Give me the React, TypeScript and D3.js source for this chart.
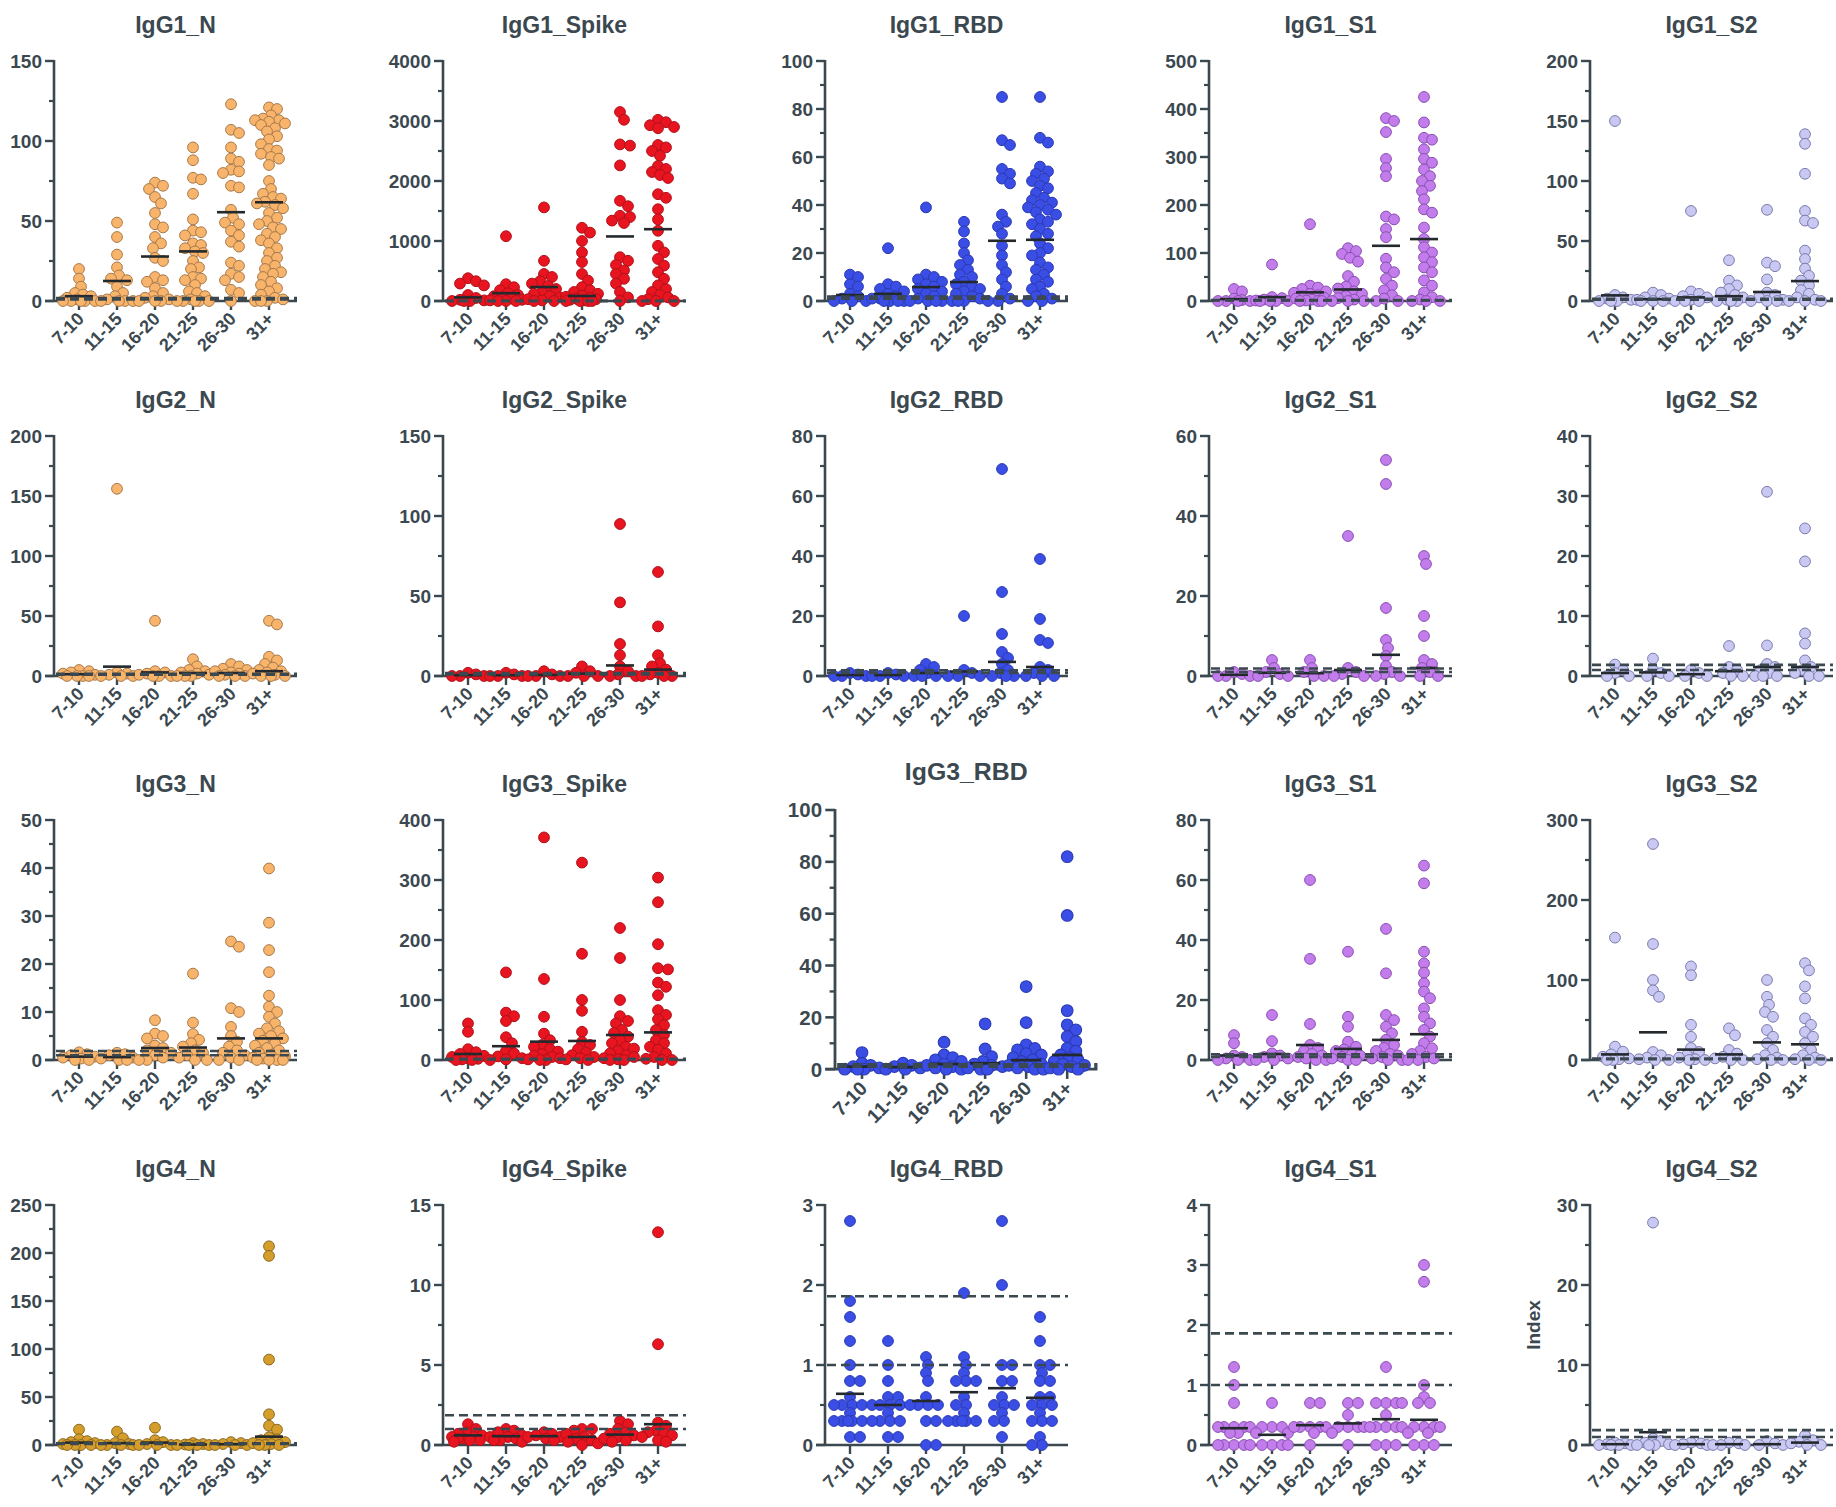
import * as d3 from "d3";

// age groups on every x axis
const ageGroups = ["7-10", "11-15", "16-20", "21-25", "26-30", "31+"];
// positivity cut-offs drawn as dashed lines
const cutoffs = [1.0, 1.86];

// ---- IgG1 ----
const igg1N = [
  [20, 14, 9, 5, 4, 3, 2, 1, 0, 0, 0, 0, 0],
  [49, 40, 29, 21, 16, 14, 13, 9, 5, 3, 1, 0, 0, 0, 0],
  [74, 72, 70, 65, 61, 55, 48, 46, 40, 36, 33, 27, 25, 15, 13, 12, 8, 5, 3, 2, 1, 0, 0, 0],
  [96, 88, 77, 76, 67, 51, 44, 43, 41, 36, 35, 33, 31, 30, 25, 21, 20, 15, 14, 13, 10, 6, 5, 3, 1, 0, 0, 0, 0, 0],
  [123, 107, 105, 96, 89, 87, 82, 81, 80, 72, 71, 57, 52, 49, 48, 44, 41, 37, 34, 24, 22, 17, 15, 13, 7, 5, 0],
  [121, 120, 116, 114, 113, 113, 112, 111, 110, 108, 106, 103, 101, 98, 95, 94, 92, 90, 89, 85, 75, 70, 67, 65, 64, 62, 61, 60, 58, 55, 52, 50, 48, 46, 45, 42, 40, 38, 36, 33, 30, 27, 25, 22, 20, 18, 17, 15, 12, 10, 8, 6, 4, 2, 1, 0, 0, 0],
];
const igg1NMean = [3, 12.5, 27.8, 31, 55.5, 61.7];

const igg1Spike = [
  [380, 330, 290, 260, 100, 50, 20, 10, 0, 0, 0],
  [1080, 280, 230, 180, 130, 100, 80, 60, 40, 20, 10, 0, 0, 0],
  [1560, 670, 450, 400, 330, 290, 250, 200, 150, 120, 80, 60, 30, 10, 0, 0],
  [1220, 1140, 1000, 810, 650, 450, 340, 230, 180, 150, 120, 90, 70, 50, 40, 30, 20, 10, 0, 0, 0, 0],
  [3150, 3020, 2610, 2590, 2260, 1670, 1580, 1420, 1400, 1340, 1300, 730, 670, 600, 510, 450, 370, 290, 150, 60, 0],
  [3020, 2980, 2930, 2900, 2880, 2600, 2560, 2500, 2420, 2250, 2200, 2150, 2100, 2050, 1780, 1720, 1530, 1360, 1170, 920, 810, 700, 590, 480, 370, 260, 200, 150, 100, 60, 30, 0, 0, 0],
];
const igg1SpikeMean = [60, 130, 232, 83, 1076, 1197];

const igg1RBD = [
  [11, 10, 7, 6, 3, 2, 1, 0, 0, 0],
  [22, 7, 6, 5, 4, 3, 2, 1, 1, 0, 0, 0, 0],
  [39, 11, 10, 9, 8, 7, 6, 5, 4, 3, 2, 1, 0, 0, 0, 0],
  [33, 29, 24, 20, 17, 15, 13, 11, 10, 8, 7, 6, 5, 4, 3, 2, 1, 0, 0, 0],
  [85, 67, 65, 55, 53, 51, 49, 36, 33, 31, 28, 23, 19, 15, 12, 9, 6, 3, 1, 0, 0],
  [85, 68, 66, 56, 54, 53, 51, 50, 48, 47, 45, 43, 42, 41, 40, 39, 38, 37, 36, 34, 33, 32, 30, 28, 27, 24, 22, 20, 19, 16, 14, 13, 11, 9, 8, 6, 5, 3, 2, 1, 0, 0],
];
const igg1RBDMean = [2.5, 3, 5.8, 7.9, 25.1, 25.5];

const igg1S1 = [
  [25, 20, 5, 2, 0, 0, 0, 0],
  [76, 8, 6, 3, 1, 0, 0, 0, 0],
  [160, 32, 28, 25, 20, 17, 15, 12, 10, 7, 5, 3, 1, 0, 0, 0],
  [110, 104, 98, 90, 82, 52, 40, 30, 26, 20, 15, 10, 6, 3, 0, 0, 0],
  [381, 375, 352, 296, 277, 260, 176, 170, 150, 133, 88, 70, 60, 46, 32, 22, 12, 5, 0, 0],
  [425, 372, 340, 336, 316, 296, 288, 274, 260, 250, 240, 229, 212, 191, 184, 153, 129, 112, 101, 91, 81, 70, 60, 43, 32, 18, 8, 3, 0, 0, 0],
];
const igg1S1Mean = [4, 8, 18, 24, 115, 129];

const igg1S2 = [
  [150, 5, 3, 2, 1, 0, 0, 0],
  [7, 5, 3, 2, 1, 0, 0, 0],
  [75, 8, 6, 4, 3, 1, 0, 0, 0],
  [34, 17, 13, 10, 7, 5, 3, 1, 0, 0, 0],
  [76, 32, 29, 18, 7, 5, 3, 1, 0, 0, 0],
  [139, 131, 106, 75, 67, 65, 42, 35, 27, 21, 17, 13, 9, 6, 3, 1, 0, 0, 0],
];
const igg1S2Mean = [4.7, 1.5, 3, 4, 7.5, 16.6];

// ---- IgG2 ----
const igg2N = [
  [5, 4, 3, 2, 1, 0, 0, 0, 0],
  [156, 3, 2, 1, 0, 0, 0],
  [46, 4, 3, 2, 1, 0, 0, 0],
  [14, 8, 5, 4, 3, 2, 1, 0, 0, 0],
  [10, 8, 6, 5, 4, 3, 2, 1, 0, 0, 0],
  [46, 43, 16, 13, 10, 7, 5, 4, 3, 2, 1, 0, 0, 0],
];
const igg2NMean = [1.5, 7.8, 3, 2.5, 2.5, 4];

const igg2Spike = [
  [2, 1, 0, 0, 0],
  [2, 1, 0, 0, 0],
  [3, 1, 0, 0, 0],
  [6, 3, 2, 0, 0, 0],
  [95, 46, 20, 13, 6, 3, 1, 0, 0],
  [65, 31, 13, 8, 6, 4, 2, 1, 0, 0, 0],
];
const igg2SpikeMean = [0.5, 0.5, 0.7, 1.5, 6.6, 4];

const igg2RBD = [
  [1, 0.5, 0, 0, 0],
  [1, 0.5, 0, 0, 0],
  [4, 3, 2, 1, 0, 0, 0],
  [20, 2, 1, 0, 0, 0],
  [69, 28, 14, 8, 6, 4, 2, 1, 0, 0, 0],
  [39, 19, 12, 11, 3, 2, 1, 0, 0, 0],
];
const igg2RBDMean = [0.3, 0.3, 1, 1.5, 4.7, 3];

const igg2S1 = [
  [1, 0.5, 0, 0, 0],
  [4, 2, 1, 0.5, 0, 0],
  [4, 2, 1, 0, 0],
  [35, 2, 1, 0.5, 0, 0],
  [54, 48, 17, 9, 7, 5, 2.5, 1, 0.5, 0, 0],
  [30, 28, 15, 10, 4, 3, 2, 1, 0, 0],
];
const igg2S1Mean = [0.3, 0.8, 0.7, 1.5, 5.3, 2];

const igg2S2 = [
  [1.9, 1, 0.5, 0, 0],
  [2.9, 1, 0.5, 0, 0],
  [1, 0.5, 0, 0],
  [5, 1.5, 1, 0.5, 0, 0],
  [30.7, 5.1, 2, 1.5, 1, 0.5, 0, 0, 0],
  [24.6, 19.1, 7.1, 5.4, 2.6, 1.5, 1, 0.5, 0, 0],
];
const igg2S2Mean = [0.5, 0.6, 0.3, 0.8, 1.5, 1.5];

// ---- IgG3 ----
const igg3N = [
  [1.6, 1.2, 1, 0.7, 0.5, 0.3, 0, 0],
  [1.5, 1.2, 1, 0.5, 0.3, 0, 0],
  [8.3, 5.5, 5, 4.5, 3, 2.5, 2, 1.5, 1, 0.5, 0, 0],
  [18, 7.8, 5.4, 4.2, 3.5, 2.8, 2, 1.5, 1, 0.5, 0, 0],
  [24.7, 23.6, 10.8, 10, 6.9, 5, 3.8, 2.8, 2, 1.5, 1, 0.5, 0, 0],
  [39.9, 28.6, 22.9, 18.3, 13.4, 11.1, 10, 9, 7.6, 6.6, 6, 5.5, 5, 4.5, 4, 3.5, 3, 2.5, 2, 1.5, 1, 0.8, 0.5, 0.3, 0, 0, 0, 0],
];
const igg3NMean = [0.7, 0.6, 2.5, 2.6, 4.5, 4.5];

const igg3Spike = [
  [61, 47, 18, 13, 10, 7, 5, 3, 2, 1, 0, 0],
  [146, 79, 73, 65, 38, 28, 15, 11, 6, 3, 1, 0],
  [371, 135, 72, 44, 33, 25, 22, 18, 14, 10, 7, 5, 3, 1, 0, 0],
  [329, 177, 100, 82, 47, 30, 25, 18, 12, 8, 5, 3, 1, 0],
  [220, 170, 100, 73, 65, 61, 50, 45, 39, 33, 28, 22, 19, 15, 11, 8, 5, 3, 1, 0, 0],
  [304, 263, 193, 153, 151, 129, 122, 108, 83, 75, 68, 58, 50, 42, 33, 28, 22, 17, 11, 5, 2, 0, 0],
];
const igg3SpikeMean = [10, 23, 30.6, 31.7, 41.7, 46];

const igg3RBD = [
  [6.4, 2.3, 1.5, 1, 0.5, 0, 0, 0],
  [2.3, 1.5, 1, 0.5, 0, 0],
  [10.4, 5.5, 4.5, 3.6, 3, 2, 1.5, 1, 0.5, 0, 0],
  [17.5, 7.8, 4.9, 3, 2, 1.5, 1, 0.5, 0, 0],
  [31.9, 18, 9.4, 8, 7.5, 6, 5.5, 4.5, 3.6, 3, 2, 1.5, 1, 0.5, 0, 0],
  [82, 59.3, 22.6, 17.1, 15.2, 12.6, 10.7, 8.1, 7, 5.5, 4.5, 3.6, 3, 2, 1.5, 1, 0.5, 0, 0],
];
const igg3RBDMean = [1, 0.8, 2, 2.3, 3.5, 5.5];

const igg3S1 = [
  [8.3, 5.6, 1.5, 1, 0.5, 0, 0, 0],
  [15, 6.3, 2.2, 1.5, 1, 0.5, 0, 0],
  [60, 33.7, 12, 5, 4, 3, 2, 1.5, 1, 0.5, 0, 0],
  [36.1, 14.4, 11.1, 6.1, 4.4, 3.5, 3, 2, 1.5, 1, 0.5, 0, 0],
  [43.7, 28.9, 15, 13.3, 11.1, 8.9, 6.7, 5, 4, 3, 2, 1.5, 1, 0.5, 0, 0],
  [64.8, 58.9, 36.1, 32.2, 29.1, 25.6, 22.8, 20.6, 17.2, 14.4, 12.2, 10, 7.8, 5.6, 3.9, 3, 2, 1, 0.5, 0, 0],
];
const igg3S1Mean = [1.5, 2, 5, 3.7, 6.7, 8.6];

const igg3S2 = [
  [153, 16.7, 10.4, 7, 4, 2, 1, 0, 0],
  [270, 145, 100, 87, 79, 10, 6, 3, 1, 0, 0],
  [117, 106, 44, 29, 15, 10, 6, 3, 1, 0, 0],
  [39.6, 31, 12.5, 8, 4, 2, 0, 0],
  [100, 79, 69, 60, 54, 37.5, 29, 21, 12.5, 6, 3, 1, 0, 0],
  [121, 112, 92, 77, 52, 44, 35, 29, 21, 12.5, 6, 3, 1, 0, 0],
];
const igg3S2Mean = [7, 34.6, 13, 7, 22, 19.6];

// ---- IgG4 ----
const igg4N = [
  [16, 6, 4, 3, 2, 1, 0, 0, 0, 0],
  [14, 7, 2, 1, 0, 0, 0, 0],
  [18, 5, 3, 1, 0, 0, 0],
  [2, 1, 0.5, 0, 0, 0, 0],
  [3, 2, 1, 0, 0, 0],
  [207, 197, 89, 32, 20, 16, 8, 6, 5, 3, 2, 1, 0, 0, 0],
];
const igg4NMean = [2.5, 2, 2.5, 0.5, 0.8, 8.7];

const igg4Spike = [
  [1.3, 1.0, 0.8, 0.7, 0.6, 0.5, 0.5, 0.4, 0.4, 0.3, 0.3, 0.2],
  [1.0, 0.9, 0.8, 0.6, 0.5, 0.5, 0.4, 0.3, 0.3, 0.2],
  [0.8, 0.7, 0.6, 0.5, 0.5, 0.4, 0.3],
  [1.0, 1.0, 0.9, 0.7, 0.5, 0.4, 0.3, 0.2, 0.1, 0.0],
  [1.5, 1.3, 1.0, 0.8, 0.7, 0.6, 0.5, 0.4, 0.3, 0.2],
  [13.3, 6.3, 1.4, 1.2, 0.9, 0.8, 0.7, 0.6, 0.5, 0.3, 0.2],
];
const igg4SpikeMean = [0.6, 0.55, 0.55, 0.5, 0.65, 1.3];

const igg4RBD = [
  [2.8, 1.8, 1.6, 1.3, 1.0, 0.8, 0.8, 0.6, 0.5, 0.5, 0.5, 0.5, 0.4, 0.3, 0.3, 0.3, 0.3, 0.3, 0.1, 0.1],
  [1.3, 1.0, 0.8, 0.6, 0.6, 0.5, 0.5, 0.5, 0.5, 0.4, 0.3, 0.3, 0.3, 0.3, 0.1, 0.1],
  [1.1, 1.0, 0.9, 0.8, 0.6, 0.5, 0.5, 0.5, 0.5, 0.3, 0.3, 0, 0],
  [1.9, 1.1, 1.0, 0.9, 0.8, 0.8, 0.8, 0.6, 0.5, 0.5, 0.4, 0.3, 0.3, 0.3, 0.3, 0.3],
  [2.8, 2.0, 1.0, 1.0, 0.8, 0.8, 0.6, 0.5, 0.5, 0.5, 0.4, 0.3, 0.3, 0.1],
  [1.6, 1.3, 1.0, 1.0, 0.9, 0.8, 0.8, 0.6, 0.6, 0.5, 0.5, 0.5, 0.4, 0.3, 0.3, 0.3, 0.1, 0, 0],
];
const igg4RBDMean = [0.64, 0.5, 0.55, 0.66, 0.71, 0.59];

const igg4S1 = [
  [1.3, 1.0, 0.7, 0.3, 0.3, 0.3, 0.3, 0.3, 0.2, 0.2, 0, 0, 0, 0, 0],
  [0.7, 0.3, 0.3, 0.3, 0.2, 0.2, 0, 0, 0, 0],
  [0.7, 0.7, 0.3, 0.3, 0.3, 0.3, 0.3, 0.2, 0],
  [0.7, 0.7, 0.5, 0.3, 0.3, 0.3, 0.3, 0.2, 0],
  [1.3, 0.7, 0.7, 0.7, 0.7, 0.5, 0.3, 0.3, 0.3, 0.3, 0.3, 0, 0, 0],
  [3.0, 2.72, 1.0, 0.8, 0.7, 0.7, 0.3, 0.3, 0.3, 0.3, 0.2, 0.2, 0, 0, 0],
];
const igg4S1Mean = [0.28, 0.17, 0.33, 0.36, 0.43, 0.42];

const igg4S2 = [
  [0.3, 0.2, 0.1, 0, 0, 0, 0],
  [27.8, 0.8, 0.5, 0.3, 0.1, 0, 0, 0],
  [0.3, 0.2, 0.1, 0, 0],
  [0.3, 0.2, 0, 0, 0],
  [0.5, 0.2, 0, 0],
  [1.2, 0.6, 0.4, 0.2, 0, 0],
];
const igg4S2Mean = [0.1, 1.6, 0.1, 0.1, 0.1, 0.3];

// colours per antigen
const palette = {
  N: { fill: "#f9b46b", stroke: "#a87a4b" },
  Spike: { fill: "#e8141f", stroke: "#b0121a" },
  RBD: { fill: "#3a4ee6", stroke: "#2a3ab4" },
  S1: { fill: "#c37ceb", stroke: "#8a50b2" },
  S2: { fill: "#c8c8f3", stroke: "#7c7cae" },
  N4: { fill: "#d59e2c", stroke: "#8e691f" },
};

const panels = [
  { title: "IgG1_N", data: igg1N, means: igg1NMean, yMax: 150, step: 50, color: "N", row: 0, col: 0 },
  { title: "IgG1_Spike", data: igg1Spike, means: igg1SpikeMean, yMax: 4000, step: 1000, color: "Spike", row: 0, col: 1 },
  { title: "IgG1_RBD", data: igg1RBD, means: igg1RBDMean, yMax: 100, step: 20, color: "RBD", row: 0, col: 2 },
  { title: "IgG1_S1", data: igg1S1, means: igg1S1Mean, yMax: 500, step: 100, color: "S1", row: 0, col: 3 },
  { title: "IgG1_S2", data: igg1S2, means: igg1S2Mean, yMax: 200, step: 50, color: "S2", row: 0, col: 4 },
  { title: "IgG2_N", data: igg2N, means: igg2NMean, yMax: 200, step: 50, color: "N", row: 1, col: 0 },
  { title: "IgG2_Spike", data: igg2Spike, means: igg2SpikeMean, yMax: 150, step: 50, color: "Spike", row: 1, col: 1 },
  { title: "IgG2_RBD", data: igg2RBD, means: igg2RBDMean, yMax: 80, step: 20, color: "RBD", row: 1, col: 2 },
  { title: "IgG2_S1", data: igg2S1, means: igg2S1Mean, yMax: 60, step: 20, color: "S1", row: 1, col: 3 },
  { title: "IgG2_S2", data: igg2S2, means: igg2S2Mean, yMax: 40, step: 10, color: "S2", row: 1, col: 4 },
  { title: "IgG3_N", data: igg3N, means: igg3NMean, yMax: 50, step: 10, color: "N", row: 2, col: 0 },
  { title: "IgG3_Spike", data: igg3Spike, means: igg3SpikeMean, yMax: 400, step: 100, color: "Spike", row: 2, col: 1 },
  { title: "IgG3_RBD", data: igg3RBD, means: igg3RBDMean, yMax: 100, step: 20, color: "RBD", row: 2, col: 2, big: true },
  { title: "IgG3_S1", data: igg3S1, means: igg3S1Mean, yMax: 80, step: 20, color: "S1", row: 2, col: 3 },
  { title: "IgG3_S2", data: igg3S2, means: igg3S2Mean, yMax: 300, step: 100, color: "S2", row: 2, col: 4 },
  { title: "IgG4_N", data: igg4N, means: igg4NMean, yMax: 250, step: 50, color: "N4", row: 3, col: 0 },
  { title: "IgG4_Spike", data: igg4Spike, means: igg4SpikeMean, yMax: 15, step: 5, color: "Spike", row: 3, col: 1 },
  { title: "IgG4_RBD", data: igg4RBD, means: igg4RBDMean, yMax: 3, step: 1, color: "RBD", row: 3, col: 2 },
  { title: "IgG4_S1", data: igg4S1, means: igg4S1Mean, yMax: 4, step: 1, color: "S1", row: 3, col: 3 },
  { title: "IgG4_S2", data: igg4S2, means: igg4S2Mean, yMax: 30, step: 10, color: "S2", row: 3, col: 4, yLabel: "Index" },
];

// layout
const W = 1836;
const H = 1507;
const colX = [54, 443, 825, 1209, 1590];
const rowTop = [61, 436, 820, 1205];
const plotW = 243;
const plotH = 240;
const R = 5.4;
const INK = "#3b4850";
const FONT = "'Liberation Sans', Arial, Helvetica, sans-serif";

// simple beeswarm: nudge overlapping dots sideways
function swarm(values, yPos) {
  const pts = values.map((v) => ({ v, py: yPos(v), dx: 0 }));
  const order = [...pts].sort((a, b) => a.py - b.py);
  const placed = [];
  const minD = R * 1.5;
  const maxOff = 16;
  for (const p of order) {
    let best = 0;
    let bestScore = -Infinity;
    for (let k = 0; k <= 18; k++) {
      const off = (k % 2 === 1 ? 1 : -1) * Math.ceil(k / 2) * 2;
      if (Math.abs(off) > maxOff) continue;
      let md = Infinity;
      for (const q of placed) {
        const d = Math.hypot(q.dx - off, q.py - p.py);
        if (d < md) md = d;
      }
      if (md >= minD) {
        best = off;
        break;
      }
      if (md > bestScore) {
        bestScore = md;
        best = off;
      }
    }
    p.dx = best;
    placed.push(p);
  }
  return pts;
}

function Panel({ p }) {
  const s = p.big ? 1.08 : 1;
  const x0 = p.big ? 835 : colX[p.col];
  const top = p.big ? 810 : rowTop[p.row];
  const y = d3.scaleLinear().domain([0, p.yMax]).range([plotH, 0]);
  const x = d3.scalePoint().domain(ageGroups).range([25, 215]);
  const major = d3.range(0, p.yMax + p.step / 100, p.step);
  const minor = major.slice(0, -1).map((v) => v + p.step / 2);
  const col = palette[p.color];

  return (
    <g transform={`translate(${x0},${top}) scale(${s})`}>
      <text x={plotW / 2} y={-28} textAnchor="middle" fontSize={23} fontWeight="bold" fill={INK}>
        {p.title}
      </text>
      {p.yLabel && (
        <text transform={`translate(-50,${plotH / 2}) rotate(-90)`} textAnchor="middle" fontSize={19} fontWeight="bold" fill={INK}>
          {p.yLabel}
        </text>
      )}
      {/* axes */}
      <line x1={0} x2={0} y1={-1} y2={plotH} stroke={INK} strokeWidth={2.6} />
      <line x1={-9} x2={plotW} y1={plotH} y2={plotH} stroke={INK} strokeWidth={2.6} />
      {major.map((v) => (
        <g key={"M" + v}>
          <line x1={-9} x2={0} y1={y(v)} y2={y(v)} stroke={INK} strokeWidth={2.4} />
          <text x={-12} y={y(v)} dy="0.36em" textAnchor="end" fontSize={19} fontWeight="bold" fill={INK}>
            {String(v)}
          </text>
        </g>
      ))}
      {minor.map((v) => (
        <line key={"m" + v} x1={-5} x2={0} y1={y(v)} y2={y(v)} stroke={INK} strokeWidth={2.2} />
      ))}
      {ageGroups.map((g) => (
        <g key={g}>
          <line x1={x(g)} x2={x(g)} y1={plotH} y2={plotH + 9} stroke={INK} strokeWidth={2.4} />
          <text
            transform={`translate(${x(g) + 6},${plotH + 19}) rotate(-45)`}
            textAnchor="end"
            fontSize={18}
            fontWeight="bold"
            fill={INK}
          >
            {g}
          </text>
        </g>
      ))}
      {/* dots */}
      {p.data.map((vals, i) =>
        swarm(vals, y).map((pt, j) => (
          <circle
            key={i + "-" + j}
            cx={x(ageGroups[i]) + pt.dx}
            cy={pt.py}
            r={R}
            fill={col.fill}
            stroke={col.stroke}
            strokeWidth={1}
          />
        ))
      )}
      {/* means */}
      {p.means.map((m, i) => (
        <line key={"mean" + i} x1={x(ageGroups[i]) - 14} x2={x(ageGroups[i]) + 14} y1={y(m)} y2={y(m)} stroke="#23292d" strokeWidth={2.6} />
      ))}
      {/* cut-offs */}
      {cutoffs.map((c) => (
        <line key={"c" + c} x1={2} x2={plotW} y1={y(c)} y2={y(c)} stroke={INK} strokeWidth={2.6} strokeDasharray="9 5" />
      ))}
    </g>
  );
}

export default function App() {
  return (
    <div style={{ position: "absolute", left: 0, top: 0 }}>
      <svg width={W} height={H} style={{ display: "block", background: "#fff", fontFamily: FONT }}>
        <rect width={W} height={H} fill="#fff" />
        {panels.map((p) => (
          <Panel key={p.title} p={p} />
        ))}
      </svg>
    </div>
  );
}
